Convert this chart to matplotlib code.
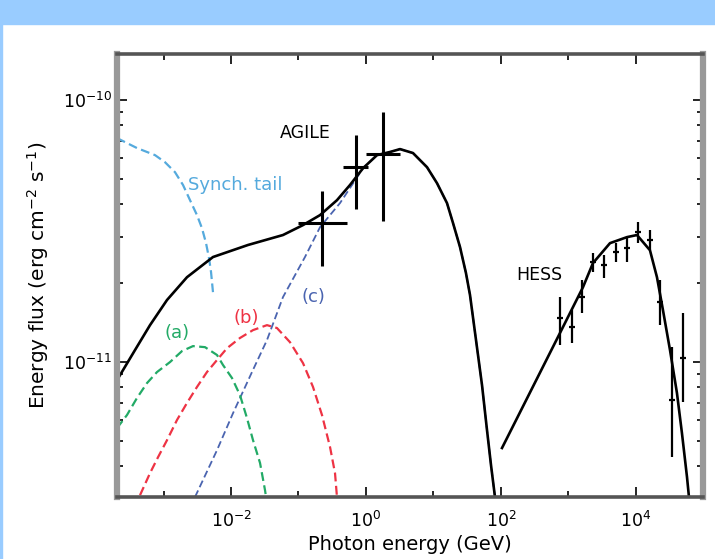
import numpy as np
import matplotlib.pyplot as plt
from matplotlib.patches import Rectangle
from matplotlib.ticker import FixedLocator, NullFormatter

# values, as log10(E / GeV) and log10(flux / erg cm^-2 s^-1)
total_logE = [-3.689, -3.422, -3.2, -2.948, -2.652, -2.267, -1.748, -1.23, -0.933, -0.681,
              -0.43, -0.237, -0.044, 0.163, 0.356, 0.504, 0.696, 0.904, 1.052, 1.2,
              1.289, 1.393, 1.481, 1.541, 1.63, 1.719, 1.793, 1.852, 1.911]
total_logF = [-11.069, -10.954, -10.859, -10.763, -10.676, -10.599, -10.553, -10.515, -10.477, -10.439,
              -10.382, -10.324, -10.26, -10.21, -10.198, -10.187, -10.202, -10.256, -10.317, -10.393,
              -10.469, -10.561, -10.66, -10.744, -10.916, -11.088, -11.26, -11.393, -11.515]

hess_model_logE = [2.015, 2.874, 3.215, 3.363, 3.615, 3.867, 4.015, 4.207, 4.311, 4.4,
                   4.504, 4.607, 4.681, 4.756, 4.785]
hess_model_logF = [-11.328, -10.889, -10.714, -10.622, -10.546, -10.523, -10.515, -10.573, -10.676, -10.802,
                   -10.954, -11.118, -11.271, -11.439, -11.515]

synch_logE = [-3.689, -3.393, -3.126, -2.978, -2.83, -2.711, -2.607, -2.504, -2.43, -2.37,
              -2.326, -2.296, -2.267]
synch_logF = [-10.145, -10.183, -10.21, -10.237, -10.275, -10.324, -10.382, -10.439, -10.489, -10.546,
              -10.603, -10.656, -10.733]

a_logE = [-3.689, -3.541, -3.393, -3.244, -3.096, -2.904, -2.726, -2.563, -2.385, -2.207,
          -2.119, -1.985, -1.867, -1.763, -1.674, -1.57, -1.496, -1.481]
a_logF = [-11.252, -11.202, -11.137, -11.08, -11.038, -11.0, -10.958, -10.939, -10.943, -10.973,
          -11.011, -11.061, -11.126, -11.214, -11.298, -11.385, -11.489, -11.515]

b_logE = [-3.348, -3.2, -3.081, -2.948, -2.8, -2.652, -2.504, -2.356, -2.207, -2.059,
          -1.867, -1.674, -1.467, -1.319, -1.126, -0.933, -0.785, -0.652, -0.533, -0.459, -0.43]
b_logF = [-11.508, -11.424, -11.363, -11.298, -11.221, -11.156, -11.095, -11.038, -10.992, -10.947,
          -10.908, -10.878, -10.859, -10.87, -10.924, -11.004, -11.095, -11.202, -11.324, -11.424, -11.515]

c_logE = [-2.533, -2.207, -1.97, -1.689, -1.467, -1.23, -0.904, -0.681, -0.385, -0.207,
          -0.044, 0.163, 0.356, 0.504, 0.696, 0.904, 1.052, 1.2, 1.289, 1.393,
          1.481, 1.541, 1.63, 1.719, 1.793, 1.852, 1.911]
c_logF = [-11.515, -11.336, -11.195, -11.038, -10.916, -10.752, -10.599, -10.485, -10.393, -10.324,
          -10.26, -10.21, -10.198, -10.187, -10.202, -10.256, -10.317, -10.393, -10.469, -10.561,
          -10.66, -10.744, -10.916, -11.088, -11.26, -11.393, -11.515]

# AGILE points: centre, x range, y range
agile_logE = [-0.652, -0.148, 0.252]
agile_logE_lo = [-1.007, -0.341, 0.0]
agile_logE_hi = [-0.281, 0.03, 0.504]
agile_logF = [-10.469, -10.256, -10.206]
agile_logF_lo = [-10.634, -10.416, -10.462]
agile_logF_hi = [-10.347, -10.134, -10.046]

# HESS points
hess_logE = [2.874, 3.052, 3.2, 3.363, 3.526, 3.704, 3.867, 4.03, 4.207, 4.356, 4.533, 4.696]
hess_logF = [-10.832, -10.866, -10.752, -10.618, -10.630, -10.580, -10.565, -10.504, -10.534,
             -10.771, -11.145, -10.985]
hess_logF_hi = [-10.752, -10.802, -10.687, -10.584, -10.592, -10.546, -10.523, -10.466, -10.496,
                -10.687, -10.943, -10.813]
hess_logF_lo = [-10.935, -10.927, -10.813, -10.656, -10.679, -10.618, -10.618, -10.546, -10.573,
                -10.859, -11.363, -11.153]

x_major = [1e-2, 1e0, 1e2, 1e4]
x_major_labels = [r'$10^{-2}$', r'$10^{0}$', r'$10^{2}$', r'$10^{4}$']
x_minor = [1e-3, 1e-1, 1e1, 1e3]
y_major = [1e-11, 1e-10]
y_major_labels = [r'$10^{-11}$', r'$10^{-10}$']


def p(v):
    return 10 ** np.array(v)


plt.rcParams['font.family'] = ['DejaVu Sans']

fig = plt.figure(figsize=(7.15, 5.59), dpi=100)
fig.patches.append(Rectangle((0, 1 - 24 / 559), 1, 24 / 559, transform=fig.transFigure,
                             color='#99ccff', zorder=0))
fig.patches.append(Rectangle((0, 0), 2 / 715, 1, transform=fig.transFigure,
                             color='#99ccff', zorder=0))

ax = fig.add_axes([117 / 715, 1 - 497 / 559, 586 / 715, 443 / 559])
ax.set_xscale('log')
ax.set_yscale('log')

dash = (0, (4, 2))
ax.plot(p(c_logE), p(c_logF), color='#4a64b0', lw=1.3, ls=dash)
ax.plot(p(synch_logE), p(synch_logF), color='#55aadd', lw=1.6, ls=dash)
ax.plot(p(a_logE), p(a_logF), color='#22aa66', lw=1.6, ls=dash)
ax.plot(p(b_logE), p(b_logF), color='#ee3344', lw=1.6, ls=dash)
ax.plot(p(total_logE), p(total_logF), color='black', lw=1.9)
ax.plot(p(hess_model_logE), p(hess_model_logF), color='black', lw=1.9)

E = p(agile_logE)
F = p(agile_logF)
ax.errorbar(E, F,
            xerr=[E - p(agile_logE_lo), p(agile_logE_hi) - E],
            yerr=[F - p(agile_logF_lo), p(agile_logF_hi) - F],
            fmt='none', ecolor='black', elinewidth=2.2, capsize=0)

E = p(hess_logE)
F = p(hess_logF)
ax.errorbar(E, F,
            xerr=[E - E * 10 ** -0.05, E * 10 ** 0.05 - E],
            yerr=[F - p(hess_logF_lo), p(hess_logF_hi) - F],
            fmt='none', ecolor='black', elinewidth=1.6, capsize=0)

ax.text(10 ** -0.9, 10 ** -10.124, 'AGILE', fontsize=12.5, ha='center', va='center')
ax.text(10 ** 2.57, 10 ** -10.668, 'HESS', fontsize=12.5, ha='center', va='center')
ax.text(10 ** -2.64, 10 ** -10.324, 'Synch. tail', fontsize=13, ha='left', va='center',
        color='#55aadd')
ax.text(10 ** -2.793, 10 ** -10.889, '(a)', fontsize=13, ha='center', va='center',
        color='#22aa66')
ax.text(10 ** -1.78, 10 ** -10.832, '(b)', fontsize=13, ha='center', va='center',
        color='#ee3344')
ax.text(10 ** -0.785, 10 ** -10.752, '(c)', fontsize=13, ha='center', va='center',
        color='#4a64b0')

ax.set_xlim(10 ** -3.689, 10 ** 4.993)
ax.set_ylim(10 ** -11.515, 10 ** -9.824)

ax.xaxis.set_major_locator(FixedLocator(x_major))
ax.xaxis.set_minor_locator(FixedLocator(x_minor))
ax.xaxis.set_minor_formatter(NullFormatter())
ax.set_xticklabels(x_major_labels)
ax.yaxis.set_major_locator(FixedLocator(y_major))
ax.yaxis.set_minor_locator(FixedLocator([k * 1e-12 for k in range(3, 10)] + [k * 1e-11 for k in range(2, 10)]))
ax.yaxis.set_minor_formatter(NullFormatter())
ax.set_yticklabels(y_major_labels)
ax.tick_params(which='both', direction='in', top=True, right=True, color='black',
               labelsize=12.5, width=1.2)
ax.tick_params(which='major', length=7)
ax.tick_params(which='minor', length=4)
ax.tick_params(axis='x', pad=10)

for side in ['top', 'bottom']:
    ax.spines[side].set_color('#555555')
    ax.spines[side].set_linewidth(2.6)
for side in ['left', 'right']:
    ax.spines[side].set_color('#999999')
    ax.spines[side].set_linewidth(4.5)

ax.set_xlabel('Photon energy (GeV)', fontsize=14, labelpad=3)
ax.set_ylabel(r'Energy flux (erg cm$^{-2}$ s$^{-1}$)', fontsize=14.5, labelpad=9)

fig.savefig('out.png', dpi=100)
